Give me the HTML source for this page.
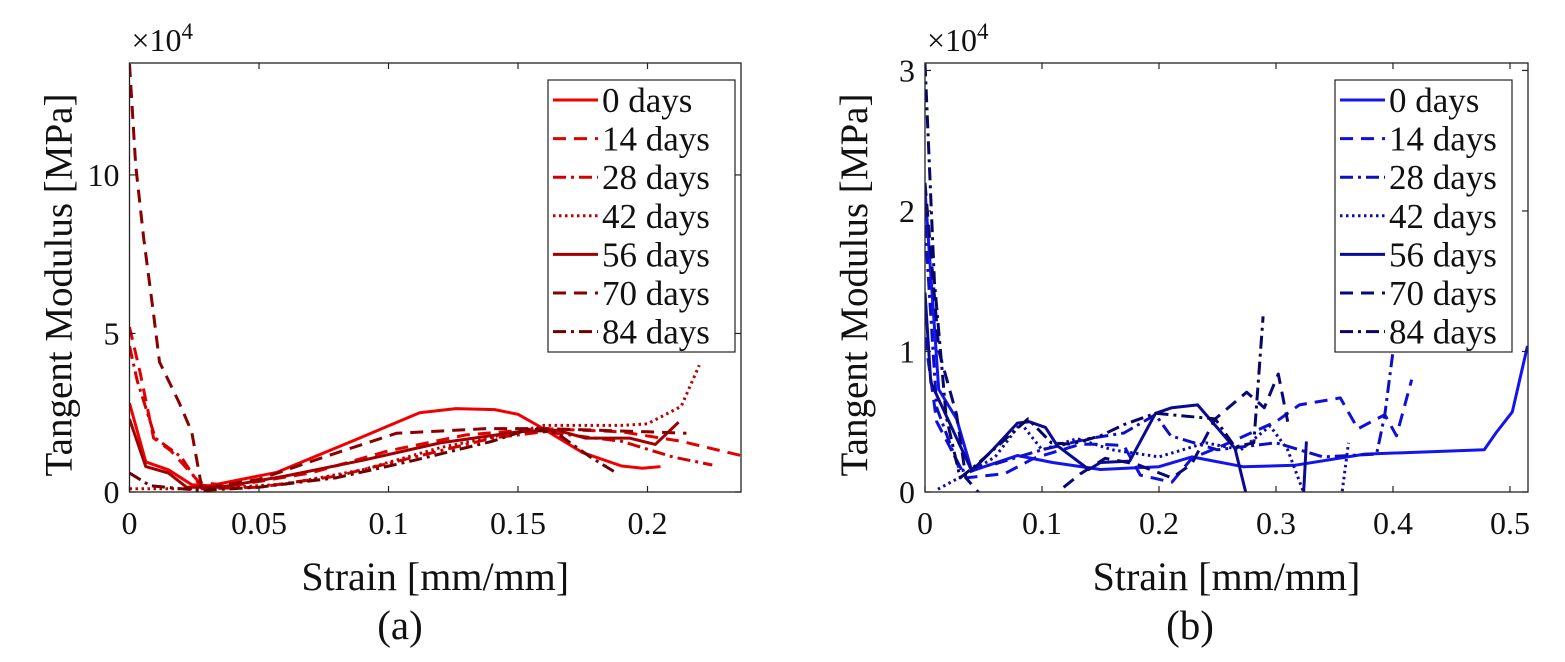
<!DOCTYPE html>
<html><head><meta charset="utf-8"><style>
html,body{margin:0;padding:0;background:#fff;}
svg text{font-family:"Liberation Serif",serif;fill:#111;}
</style></head><body>
<svg id="svg" width="1565" height="657" viewBox="0 0 1565 657" xmlns="http://www.w3.org/2000/svg">
<defs>
<clipPath id="clipA"><rect x="129.5" y="63" width="611.5" height="429"/></clipPath>
<clipPath id="clipB"><rect x="925" y="63" width="603" height="429"/></clipPath>
</defs>
</svg>
<script>
// ---------- Data: panel (a) ----------
const legendLabels = ["0 days","14 days","28 days","42 days","56 days","70 days","84 days"];
const aX0 = [0,0.0063,0.015,0.024,0.031,0.057,0.088,0.112,0.126,0.141,0.150,0.158,0.175,0.19,0.198,0.205];
const aY0 = [2.8,0.95,0.7,0.23,0.2,0.62,1.67,2.5,2.63,2.6,2.45,2.08,1.24,0.82,0.75,0.8];
const aX14 = [0,0.004,0.0093,0.016,0.027,0.04,0.07,0.1,0.13,0.16,0.19,0.213,0.236];
const aY14 = [5.2,3.8,1.7,1.3,0.3,0.2,0.6,1.3,1.8,2.0,1.9,1.6,1.15];
const aX28 = [0,0.003,0.01,0.02,0.028,0.05,0.08,0.11,0.14,0.16,0.19,0.21,0.225];
const aY28 = [4.6,3.5,1.7,1.1,0.1,0.15,0.5,1.1,1.7,1.9,1.6,1.1,0.85];
const aX42 = [0,0.015,0.03,0.06,0.09,0.12,0.15,0.16,0.19,0.2,0.213,0.22];
const aY42 = [0.1,0.1,0.1,0.25,0.7,1.4,1.9,2.1,2.1,2.15,2.7,4.0];
const aX56 = [0,0.0063,0.015,0.022,0.035,0.06,0.09,0.12,0.15,0.165,0.176,0.193,0.203,0.212];
const aY56 = [2.3,0.8,0.6,0.15,0.15,0.5,1.0,1.55,1.9,1.95,1.7,1.7,1.5,2.2];
const aX70 = [0,0.0024,0.0055,0.0093,0.0116,0.019,0.024,0.028,0.05,0.075,0.103,0.138,0.16,0.2,0.215];
const aY70 = [13.5,10.3,8.0,5.6,4.1,2.85,1.9,0.1,0.4,1.1,1.85,2.0,2.0,1.9,1.85];
const aX84 = [0,0.008,0.02,0.028,0.05,0.08,0.11,0.14,0.155,0.165,0.178,0.188];
const aY84 = [0.6,0.2,0.1,0.05,0.15,0.45,1.0,1.6,2.0,1.85,1.1,0.6];
// ---------- Data: panel (b) ----------
const bX0 = [0,0.0117,0.027,0.040,0.079,0.109,0.15,0.2,0.228,0.272,0.316,0.376,0.478,0.488,0.502,0.515];
const bY0 = [2.15,0.73,0.52,0.15,0.26,0.21,0.16,0.18,0.25,0.18,0.19,0.27,0.30,0.42,0.57,1.04];
const bX14 = [0,0.01,0.035,0.068,0.093,0.133,0.15,0.17,0.184,0.211,0.228,0.26,0.3,0.32,0.355,0.37,0.393,0.403,0.416];
const bY14 = [1.1,0.5,0.1,0.13,0.24,0.34,0.34,0.33,0.12,0.07,0.24,0.35,0.5,0.62,0.67,0.45,0.55,0.4,0.8];
const bX28 = [0,0.01,0.03,0.06,0.1,0.14,0.17,0.197,0.21,0.25,0.3,0.34,0.386,0.393,0.40,0.405];
const bY28 = [1.9,0.6,0.15,0.2,0.3,0.38,0.42,0.55,0.4,0.3,0.35,0.25,0.27,0.55,1.0,1.3];
const bX42 = [0.011,0.04,0.06,0.082,0.1,0.13,0.16,0.2,0.24,0.27,0.295,0.31,0.328,0.34,0.355,0.362];
const bY42 = [0.02,0.15,0.25,0.49,0.3,0.38,0.3,0.25,0.35,0.3,0.47,0.3,-0.1,-0.1,-0.1,0.35];
const bX56 = [0,0.005,0.04,0.059,0.079,0.089,0.103,0.113,0.14,0.15,0.175,0.197,0.211,0.233,0.265,0.277,0.3,0.323,0.326];
const bY56 = [1.42,0.78,0.15,0.31,0.49,0.5,0.46,0.33,0.16,0.21,0.22,0.56,0.6,0.62,0.31,-0.1,-0.4,-0.1,0.36];
const bX70 = [0,0.012,0.027,0.035,0.056,0.08,0.106,0.133,0.154,0.18,0.211,0.228,0.248,0.275,0.29,0.302,0.31];
const bY70 = [2.2,1.0,0.55,0.1,-0.1,-0.3,-0.05,0.13,0.24,0.2,0.1,0.2,0.52,0.71,0.6,0.84,0.5];
const bX84 = [0,0.008,0.018,0.03,0.045,0.088,0.108,0.125,0.15,0.17,0.197,0.248,0.265,0.281,0.289];
const bY84 = [3.05,1.5,0.54,0.1,0.2,0.52,0.35,0.34,0.4,0.48,0.56,0.52,0.32,0.35,1.25];
const aXTicks = [0,0.05,0.1,0.15,0.2];
const aXTickLabels = ["0","0.05","0.1","0.15","0.2"];
const aYTicks = [0,5,10];
const aYTickLabels = ["0","5","10"];
const bXTicks = [0,0.1,0.2,0.3,0.4,0.5];
const bXTickLabels = ["0","0.1","0.2","0.3","0.4","0.5"];
const bYTicks = [0,1,2,3];
const bYTickLabels = ["0","1","2","3"];

const NS="http://www.w3.org/2000/svg";
const svg=document.getElementById('svg');
function mk(tag,attrs,parent){const e=document.createElementNS(NS,tag);for(const k in attrs)e.setAttribute(k,attrs[k]);(parent||svg).appendChild(e);return e;}
const dashes=["none","13,8","13,5,3,5","2.5,3.5","none","13,8","13,5,3,5"];
const redC=["#f00000","#e20000","#d40000","#c00000","#a00000","#8a0000","#6e0000"];
const bluC=["#1414f0","#1010dc","#0e0ec4","#0c0cae","#0a0a92","#08087a","#060664"];

function panel(p){
  const g=mk('g',{});
  
  
  const sx=v=>p.x0+(v-p.xmin)/(p.xmax-p.xmin)*(p.x1-p.x0);
  const sy=v=>p.y1-(v-p.ymin)/(p.ymax-p.ymin)*(p.y1-p.y0);
  const sg=mk('g',{'clip-path':'url(#'+p.clip+')'},g);
  p.series.forEach((s,i)=>{
    const d=s[0].map((x,j)=>(j?'L':'M')+sx(x).toFixed(1)+','+sy(s[1][j]).toFixed(1)).join(' ');
    const path=mk('path',{d:d,fill:'none',stroke:p.colors[i],'stroke-width':3,'stroke-dasharray':dashes[i],'stroke-linejoin':'round'},sg);
    
    
  });
  const box=mk('rect',{x:p.x0,y:p.y0,width:p.x1-p.x0,height:p.y1-p.y0,fill:'none',stroke:'#222','stroke-width':1.3},g);
  
  
  p.xt.forEach((t,i)=>{
    const x=sx(t);
    mk('line',{x1:x,y1:p.y1,x2:x,y2:p.y1-6,stroke:'#222','stroke-width':1.2},g);
    mk('line',{x1:x,y1:p.y0,x2:x,y2:p.y0+6,stroke:'#222','stroke-width':1.2},g);
    const tx=mk('text',{x:x,y:p.y1+42,'font-size':32,'text-anchor':'middle'},g);
    tx.textContent=p.xl[i];
    
    
  });
  p.yt.forEach((t,i)=>{
    const y=sy(t);
    mk('line',{x1:p.x0,y1:y,x2:p.x0+6,y2:y,stroke:'#222','stroke-width':1.2},g);
    mk('line',{x1:p.x1,y1:y,x2:p.x1-6,y2:y,stroke:'#222','stroke-width':1.2},g);
    const tx=mk('text',{x:p.x0-10,y:y+11,'font-size':32,'text-anchor':'end'},g);
    tx.textContent=p.yl[i];
    
    
  });
  const ex=mk('text',{x:p.x0+2,y:51,'font-size':32},g);
  ex.innerHTML='×10<tspan dy="-12" font-size="23">4</tspan>';
  
  
  const yt=mk('text',{x:0,y:0,'font-size':39,'text-anchor':'middle',transform:'translate('+(p.x0-58)+',285) rotate(-90)'},g);
  yt.textContent='Tangent Modulus [MPa]';
  
  
  const xt=mk('text',{x:(p.x0+p.x1)/2,y:590,'font-size':40,'text-anchor':'middle'},g);
  xt.textContent='Strain [mm/mm]';
  
  
  const cap=mk('text',{x:p.cap,y:639,'font-size':41,'text-anchor':'middle'},g);
  cap.textContent=p.capText;
  
  
  const lg=mk('g',{},g);
  
  
  mk('rect',{x:p.lx,y:80,width:p.lw,height:272,fill:'#fff',stroke:'#222','stroke-width':1.2},lg);
  legendLabels.forEach((l,i)=>{
    const y=100+i*38.6;
    const e=mk('g',{},lg);
    
    
    mk('line',{x1:p.lx+5,y1:y,x2:p.lx+50,y2:y,stroke:p.colors[i],'stroke-width':3,'stroke-dasharray':dashes[i]},e);
    const t=mk('text',{x:p.lx+54,y:y+12,'font-size':35},e);
    t.textContent=l;
  });
}
panel({name:'chart-a',clip:'clipA',x0:129.5,x1:741,y0:63,y1:492,xmin:0,xmax:0.2361,ymin:0,ymax:13.53,
  series:[[aX0,aY0],[aX14,aY14],[aX28,aY28],[aX42,aY42],[aX56,aY56],[aX70,aY70],[aX84,aY84]],colors:redC,
  xt:aXTicks,xl:aXTickLabels,yt:aYTicks,yl:aYTickLabels,lx:548,lw:187,cap:400,capText:'(a)'});
panel({name:'chart-b',clip:'clipB',x0:925,x1:1528,y0:63,y1:492,xmin:0,xmax:0.5154,ymin:0,ymax:3.053,
  series:[[bX0,bY0],[bX14,bY14],[bX28,bY28],[bX42,bY42],[bX56,bY56],[bX70,bY70],[bX84,bY84]],colors:bluC,
  xt:bXTicks,xl:bXTickLabels,yt:bYTicks,yl:bYTickLabels,lx:1335,lw:177,cap:1190,capText:'(b)'});
</script>
</body></html>
